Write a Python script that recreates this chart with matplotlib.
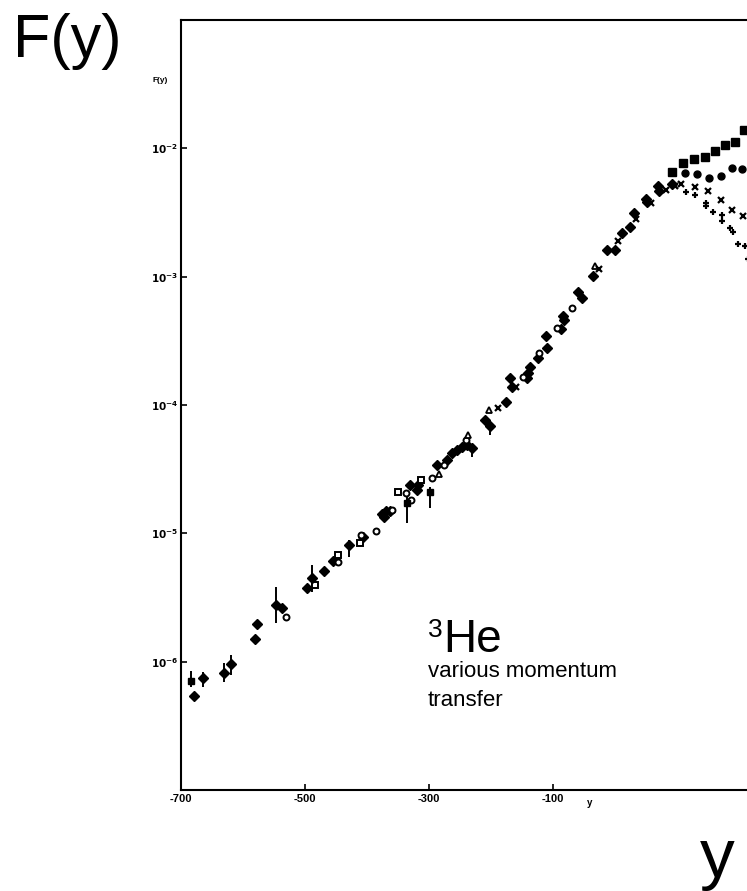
import matplotlib
matplotlib.use("Agg")
import matplotlib.pyplot as plt

plt.rcParams["font.family"] = ["Liberation Sans", "DejaVu Sans"]
plt.rcParams["axes.unicode_minus"] = False

# filled diamonds along the common scaling curve
dia_x = [-679, -577, -581, -537, -497, -469, -455, -406, -376, -369, -363, -373,
         -331, -318, -319, -287, -271, -263, -255, -247, -239, -210, -176, -169,
         -166, -140, -137, -142, -124, -111, -110, -87, -84, -82, -60, -53, -35,
         -13, 0, 11, 24, 31, 50, 52, 69, 71, 92]
dia_y = [5.4e-7, 1.97e-6, 1.51e-6, 2.63e-6, 3.76e-6, 5.1e-6, 6.1e-6, 9.35e-6,
         1.41e-5, 1.49e-5, 1.49e-5, 1.34e-5, 2.37e-5, 2.37e-5, 2.17e-5, 3.39e-5,
         3.71e-5, 4.2e-5, 4.43e-5, 4.68e-5, 4.85e-5, 7.6e-5, 1.05e-4, 1.61e-4,
         1.37e-4, 1.76e-4, 1.96e-4, 1.61e-4, 2.34e-4, 3.47e-4, 2.8e-4, 3.93e-4,
         4.95e-4, 4.61e-4, 7.6e-4, 6.8e-4, 1.01e-3, 1.61e-3, 1.61e-3, 2.19e-3,
         2.43e-3, 3.13e-3, 4.02e-3, 3.81e-3, 5.07e-3, 4.64e-3, 5.25e-3]

# points drawn with vertical error bars
err_x = [-664, -631, -619, -547, -489, -429, -231, -202]
err_y = [7.4e-7, 8.1e-7, 9.6e-7, 2.77e-6, 4.49e-6, 8.1e-6, 4.6e-5, 6.9e-5]
err_hi = [8.3e-7, 9.8e-7, 1.13e-6, 3.8e-6, 5.66e-6, 8.9e-6, 4.9e-5, 7.3e-5]
err_lo = [6.3e-7, 7.0e-7, 7.9e-7, 2.0e-6, 3.5e-6, 6.5e-6, 3.9e-5, 5.8e-5]

sqf_x = [-684, -336, -298]
sqf_y = [7.1e-7, 1.72e-5, 2.09e-5]
sqf_hi = [8.5e-7, 2.06e-5, 2.28e-5]
sqf_lo = [6.3e-7, 1.2e-5, 1.57e-5]

osq_x = [-484, -447, -411, -350, -313]
osq_y = [3.96e-6, 6.8e-6, 8.4e-6, 2.09e-5, 2.6e-5]

oci_x = [-531, -447, -410, -386, -360, -337, -329, -295, -276, -240, -148, -123,
         -94, -69]
oci_y = [2.24e-6, 6.0e-6, 9.7e-6, 1.04e-5, 1.52e-5, 2.05e-5, 1.81e-5, 2.69e-5,
         3.39e-5, 5.3e-5, 1.64e-4, 2.56e-4, 4.0e-4, 5.7e-4]

tri_x = [-284, -237, -203, -32]
tri_y = [2.89e-5, 5.8e-5, 9.2e-5, 1.21e-3]

cross_x = [-189, -160, -26, 5, 34, 58, 82, 97, 107, 129, 150, 171, 189, 207]
cross_y = [9.4e-5, 1.37e-4, 1.15e-3, 1.9e-3, 2.81e-3, 3.74e-3, 4.72e-3, 5.07e-3,
           5.25e-3, 4.98e-3, 4.63e-3, 3.94e-3, 3.3e-3, 2.96e-3]

plus_x = [115, 129, 147, 147, 158, 173, 173, 186, 190, 198, 210, 215]
plus_y = [4.55e-3, 4.31e-3, 3.74e-3, 3.55e-3, 3.18e-3, 3.02e-3, 2.71e-3,
          2.39e-3, 2.23e-3, 1.80e-3, 1.73e-3, 1.37e-3]

# high momentum transfer branches
bsq_x = [92, 110, 127.5, 145, 161, 177.5, 194, 208]
bsq_y = [6.52e-3, 7.64e-3, 8.22e-3, 8.51e-3, 9.48e-3, 1.055e-2, 1.13e-2, 1.38e-2]

bci_x = [113, 132, 152, 171, 189, 205]
bci_y = [6.39e-3, 6.28e-3, 5.85e-3, 6.06e-3, 7.0e-3, 6.87e-3]

xticks = [-700, -500, -300, -100]
yticks = [1e-6, 1e-5, 1e-4, 1e-3, 1e-2]
ytick_labels = [r"$\mathbf{10^{-%d}}$" % k for k in (6, 5, 4, 3, 2)]

W, H = 747, 891
fig = plt.figure(figsize=(W / 100, H / 100), dpi=100)
ax = fig.add_axes([181 / W, 1 - 790 / H, 620 / W, 770 / H])
ax.set_yscale("log")
ax.set_xlim(-700, 300)
ax.set_ylim(1e-7, 1e-1)

k = dict(color="black", linestyle="none")
ax.plot(dia_x, dia_y, marker="D", ms=4.6, **k)
lo = [y - l for y, l in zip(err_y, err_lo)]
hi = [h - y for y, h in zip(err_y, err_hi)]
ax.errorbar(err_x, err_y, yerr=[lo, hi], fmt="D", ms=4.6, color="black",
            elinewidth=1.4, capsize=0)
lo = [y - l for y, l in zip(sqf_y, sqf_lo)]
hi = [h - y for y, h in zip(sqf_y, sqf_hi)]
ax.errorbar(sqf_x, sqf_y, yerr=[lo, hi], fmt="s", ms=5, color="black",
            elinewidth=1.4, capsize=0)
ax.plot(osq_x, osq_y, marker="s", ms=4.8, mfc="white", mew=1.4, **k)
ax.plot(oci_x, oci_y, marker="o", ms=4.3, mfc="white", mew=1.4, **k)
ax.plot(tri_x, tri_y, marker="^", ms=4.8, mfc="white", mew=1.3, **k)
ax.plot(cross_x, cross_y, marker="x", ms=5, mew=1.6, **k)
ax.plot(plus_x, plus_y, marker="+", ms=5, mew=1.6, **k)
ax.plot(bsq_x, bsq_y, marker="s", ms=5.5, **k)
ax.plot(bci_x, bci_y, marker="o", ms=5, **k)

for s in ax.spines.values():
    s.set_linewidth(1.5)
ax.set_xticks(xticks)
ax.set_xticklabels([str(t) for t in xticks], fontsize=8, fontweight="bold")
ax.set_yticks(yticks)
ax.set_yticklabels(ytick_labels, fontsize=7.5)
ax.minorticks_off()
ax.tick_params(direction="in", length=4.5, width=1.2, pad=3)
ax.tick_params(axis="y", pad=2)

# small labels from the scanned figure
fig.text(160 / W, 1 - 80 / H, "F(y)", fontsize=6, fontweight="bold",
         ha="center", va="center")
fig.text(590 / W, 1 - 803 / H, "y", fontsize=7, fontweight="bold",
         ha="center", va="center")

# overlaid annotations
fig.text(13 / W, 1 - 57 / H, "F(y)", fontsize=44, va="baseline")
fig.text(700 / W, 1 - 877 / H, "y", fontsize=50, va="baseline")
fig.text(428 / W, 1 - 637 / H, "3", fontsize=19, va="baseline")
fig.text(443 / W, 1 - 652 / H, "He", fontsize=33, va="baseline")
fig.text(428 / W, 1 - 677 / H, "various momentum", fontsize=16, va="baseline")
fig.text(428 / W, 1 - 706 / H, "transfer", fontsize=16, va="baseline")

fig.savefig("out.png", dpi=100)
